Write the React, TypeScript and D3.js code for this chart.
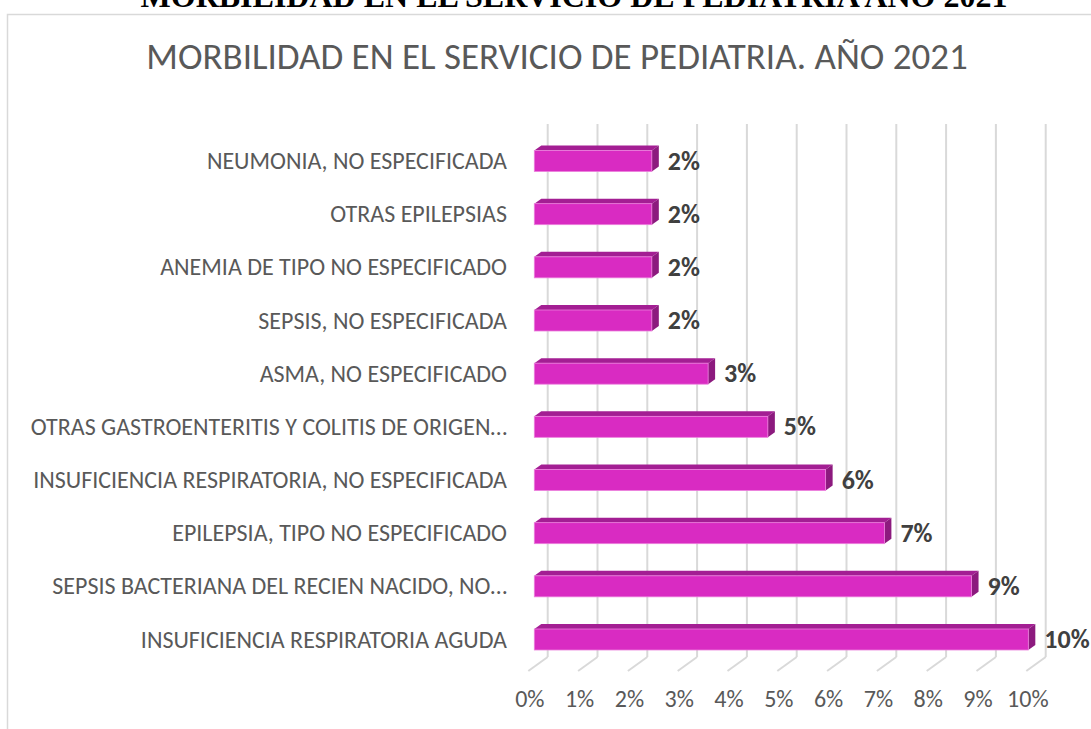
import * as d3 from 'd3';
import React from 'react';

// diagnoses, top to bottom as drawn
const categories = [
  'NEUMONIA, NO ESPECIFICADA',
  'OTRAS EPILEPSIAS',
  'ANEMIA DE TIPO NO ESPECIFICADO',
  'SEPSIS, NO ESPECIFICADA',
  'ASMA, NO ESPECIFICADO',
  'OTRAS GASTROENTERITIS Y COLITIS DE ORIGEN…',
  'INSUFICIENCIA RESPIRATORIA, NO ESPECIFICADA',
  'EPILEPSIA, TIPO NO ESPECIFICADO',
  'SEPSIS BACTERIANA DEL RECIEN NACIDO, NO…',
  'INSUFICIENCIA RESPIRATORIA AGUDA',
];
const values = [0.0236, 0.0236, 0.0236, 0.0236, 0.0349, 0.0469, 0.0585, 0.0703, 0.0878, 0.0992];
const ticks = [0, 0.01, 0.02, 0.03, 0.04, 0.05, 0.06, 0.07, 0.08, 0.09, 0.1];

const title = 'MORBILIDAD EN EL SERVICIO DE PEDIATRIA. AÑO 2021';
const docHeading = 'MORBILIDAD EN EL SERVICIO DE PEDIATRIA AÑO 2021';

const W = 1091;
const H = 729;
const font = "Carlito, 'Open Sans', sans-serif";

export default function App() {
  // front plane of the bars
  const x = d3.scaleLinear().domain([0, 0.1]).range([534.3, 1032.3]);
  const y = d3.scalePoint<string>().domain(categories).range([161, 639.5]);
  const pct = d3.format('.0%');

  // 3d depth offsets
  const wallDx = 13.4; // back wall relative to bar front
  const floorDx = -19.4; // floor front edge relative to back wall
  const floorDy = 14;
  const barDx = 7;
  const barDy = 5;
  const barH = 21;
  const gridTop = 124;
  const floorY = 657;

  return (
    <svg width={W} height={H} style={{ position: 'absolute', left: 0, top: 0 }}>
      <rect width={W} height={H} fill="#fff" />
      {/* heading of the document behind the chart, mostly cut off */}
      <text x={574} y={7} textAnchor="middle" fontFamily="'Liberation Serif', serif" fontWeight="bold" fontSize={32}>
        {docHeading}
      </text>
      <rect x={7.5} y={14.5} width={W + 10} height={H} fill="#fff" stroke="#d9d9d9" strokeWidth={1.5} />
      <text x={557} y={69} textAnchor="middle" fontFamily={font} fontSize={37} fill="#595959">
        {title}
      </text>

      {/* back wall grid + floor */}
      {ticks.map((t) => {
        const bx = x(t) + wallDx;
        return (
          <g key={t}>
            <line x1={bx} x2={bx} y1={gridTop} y2={floorY} stroke="#d9d9d9" strokeWidth={2} />
            <line x1={bx} x2={bx + floorDx} y1={floorY} y2={floorY + floorDy} stroke="#d9d9d9" strokeWidth={2} />
            <text x={bx + floorDx + 1.5} y={707} textAnchor="middle" fontFamily={font} fontSize={24} fill="#595959">
              {pct(t)}
            </text>
          </g>
        );
      })}

      {categories.map((c, i) => {
        const cy = y(c)!;
        const x0 = x(0);
        const x1 = x(values[i]);
        const top = cy - barH / 2;
        return (
          <g key={c}>
            <polygon
              points={`${x0},${top} ${x0 + barDx},${top - barDy} ${x1 + barDx},${top - barDy} ${x1},${top}`}
              fill="#a31e93"
            />
            <polygon
              points={`${x1},${top} ${x1 + barDx},${top - barDy} ${x1 + barDx},${top + barH - barDy} ${x1},${top + barH}`}
              fill="#8c1a7e"
            />
            <rect x={x0} y={top} width={x1 - x0} height={barH} fill="#d92bc2" stroke="#ec7fdc" strokeWidth={0.8} />
            <text x={507} y={cy + 8} textAnchor="end" fontFamily={font} fontSize={24} fill="#595959">
              {c}
            </text>
            <text x={x1 + barDx + 9} y={cy + 8.5} fontFamily={font} fontWeight="bold" fontSize={26} fill="#404040">
              {pct(values[i])}
            </text>
          </g>
        );
      })}
    </svg>
  );
}
